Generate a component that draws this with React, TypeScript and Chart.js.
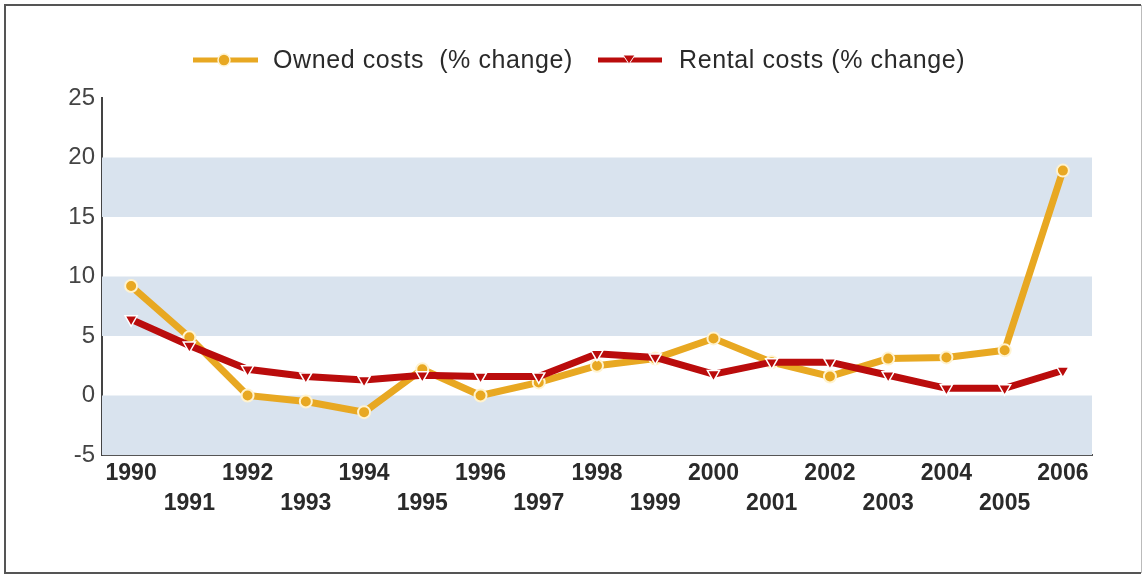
import React, { useEffect, useRef } from 'react';
import { Chart, registerables } from 'chart.js';

Chart.register(...registerables);

const years = ['1990', '1991', '1992', '1993', '1994', '1995', '1996', '1997', '1998', '1999', '2000', '2001', '2002', '2003', '2004', '2005', '2006'];
const ownedCosts = [9.2, 4.9, 0, -0.5, -1.4, 2.2, 0, 1.1, 2.5, 3.1, 4.8, 2.8, 1.6, 3.1, 3.2, 3.8, 18.9];
const rentalCosts = [6.4, 4.2, 2.2, 1.6, 1.3, 1.7, 1.6, 1.6, 3.5, 3.2, 1.8, 2.8, 2.8, 1.7, 0.6, 0.6, 2.1];
const ownedLabel = 'Owned costs  (% change)';
const rentalLabel = 'Rental costs (% change)';
const bandRanges = [[-5, 0], [5, 10], [15, 20]];

const ORANGE = '#E8A822';
const RED = '#BA0C0C';

const bandsPlugin = {
  id: 'bands',
  beforeDatasetsDraw(chart: any) {
    const { ctx, chartArea, scales } = chart;
    const y = scales.y;
    ctx.save();
    ctx.fillStyle = '#D9E3EE';
    bandRanges.forEach(([a, b]) => {
      const top = y.getPixelForValue(b);
      const bot = y.getPixelForValue(a);
      ctx.fillRect(chartArea.left, top, chartArea.right - chartArea.left, bot - top);
    });
    ctx.restore();
  },
};

const frameLegendPlugin = {
  id: 'frameLegend',
  beforeDraw(chart: any) {
    const { ctx } = chart;
    ctx.save();
    ctx.fillStyle = '#ffffff';
    ctx.fillRect(0, 0, chart.width, chart.height);
    ctx.strokeStyle = '#555';
    ctx.lineWidth = 2;
    ctx.beginPath();
    ctx.moveTo(1141, 5);
    ctx.lineTo(5, 5);
    ctx.lineTo(5, 573);
    ctx.lineTo(1141, 573);
    ctx.stroke();
    ctx.strokeStyle = '#bbb';
    ctx.lineWidth = 1;
    ctx.beginPath();
    ctx.moveTo(1141.5, 5);
    ctx.lineTo(1141.5, 573);
    ctx.stroke();
    ctx.restore();
  },
  afterDraw(chart: any) {
    const { ctx } = chart;
    const ly = 60;
    ctx.save();
    // owned swatch
    ctx.strokeStyle = ORANGE;
    ctx.lineWidth = 5;
    ctx.beginPath();
    ctx.moveTo(193, ly);
    ctx.lineTo(258, ly);
    ctx.stroke();
    ctx.beginPath();
    ctx.arc(224, ly, 6, 0, Math.PI * 2);
    ctx.fillStyle = ORANGE;
    ctx.fill();
    ctx.strokeStyle = '#FFF3D0';
    ctx.lineWidth = 1.5;
    ctx.stroke();
    // rental swatch
    ctx.strokeStyle = RED;
    ctx.lineWidth = 5;
    ctx.beginPath();
    ctx.moveTo(598, ly);
    ctx.lineTo(662, ly);
    ctx.stroke();
    ctx.beginPath();
    ctx.moveTo(623, ly - 5);
    ctx.lineTo(635, ly - 5);
    ctx.lineTo(629, ly + 4);
    ctx.closePath();
    ctx.fillStyle = RED;
    ctx.fill();
    ctx.strokeStyle = '#fff';
    ctx.lineWidth = 1;
    ctx.stroke();
    // text
    ctx.fillStyle = '#2a2a2a';
    ctx.font = '25px "Liberation Sans", Arial, sans-serif';
    ctx.textBaseline = 'middle';
    ctx.textAlign = 'left';
    try { (ctx as any).letterSpacing = '0.6px'; } catch (e) {}
    ctx.fillText(ownedLabel, 273, ly + 1);
    ctx.fillText(rentalLabel, 679, ly + 1);
    ctx.restore();
  },
};

export default function App() {
  const ref = useRef<HTMLCanvasElement>(null);
  useEffect(() => {
    document.body.style.margin = '0';
    const chart = new Chart(ref.current as HTMLCanvasElement, {
      type: 'line',
      data: {
        labels: years,
        datasets: [
          {
            label: ownedLabel,
            data: ownedCosts,
            borderColor: ORANGE,
            backgroundColor: ORANGE,
            borderWidth: 7,
            pointRadius: 6,
            pointBackgroundColor: ORANGE,
            pointBorderColor: '#FFF3D0',
            pointBorderWidth: 2,
            tension: 0,
            order: 1,
          },
          {
            label: rentalLabel,
            data: rentalCosts,
            borderColor: RED,
            backgroundColor: RED,
            borderWidth: 7,
            pointStyle: 'triangle',
            rotation: 180,
            pointRadius: 7,
            pointBackgroundColor: RED,
            pointBorderColor: '#ffffff',
            pointBorderWidth: 1.5,
            tension: 0,
            order: 0,
          },
        ],
      },
      options: {
        responsive: false,
        animation: false,
        layout: { padding: { top: 98, right: 51, left: 0, bottom: 0 } },
        plugins: { legend: { display: false }, tooltip: { enabled: false } },
        scales: {
          x: {
            offset: true,
            grid: { display: false, drawTicks: false },
            border: { display: true, color: '#555', width: 2 },
            ticks: {
              autoSkip: false,
              maxRotation: 0,
              padding: 4,
              color: '#2a2a2a',
              font: { family: '"Liberation Sans", Arial, sans-serif', size: 23, weight: 'bold', lineHeight: 1.3 },
              callback: (_v: any, i: number) => (i % 2 === 0 ? [years[i], ''] : ['', years[i]]),
            },
            afterFit: (s: any) => { s.height = 121; },
          },
          y: {
            min: -5,
            max: 25,
            grid: { display: false, drawTicks: false },
            border: { display: true, color: '#444', width: 2 },
            ticks: {
              stepSize: 5,
              padding: 7,
              color: '#444',
              font: { family: '"Liberation Sans", Arial, sans-serif', size: 24 },
            },
            afterFit: (s: any) => { s.width = 102; },
          },
        },
      },
      plugins: [bandsPlugin, frameLegendPlugin],
    } as any);
    return () => chart.destroy();
  }, []);
  return <canvas ref={ref} width={1143} height={576} style={{ display: 'block' }} />;
}
